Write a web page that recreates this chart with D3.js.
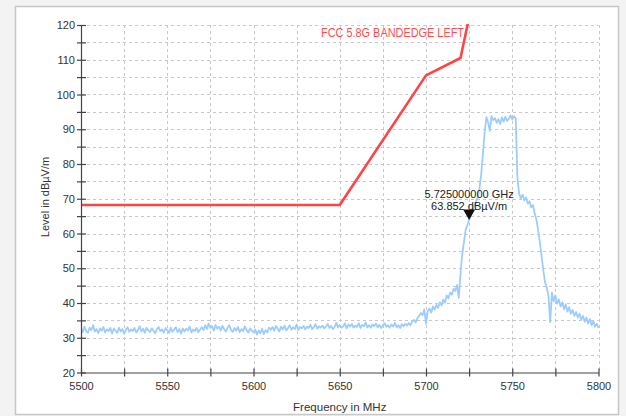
<!DOCTYPE html>
<html><head><meta charset="utf-8">
<script src="https://cdn.jsdelivr.net/npm/d3@7"></script>
<style>
html,body{margin:0;padding:0;background:#f3f3f3;}
svg{display:block;font-family:"Liberation Sans",Arial,sans-serif;}
</style></head><body>
<svg id="chart" width="626" height="416"></svg>
<script>
// Sweep: 5500–5800 MHz, one reading per MHz (dBµV/m)
const sweepStartMHz = 5500;
const sweepStepMHz = 1;
const traceLevels = [
  32.8, 31.6, 33.2, 32.0, 31.4, 32.9, 32.2, 33.6, 31.8, 32.5,
  31.3, 32.7, 32.0, 33.1, 31.5, 32.4, 31.9, 32.8, 31.2, 32.6,
  32.1, 31.4, 32.9, 31.8, 32.5, 31.1, 32.3, 33.0, 31.7, 32.4,
  31.9, 32.8, 31.5, 32.2, 33.3, 31.8, 32.6, 31.4, 32.9, 32.1,
  31.6, 32.7, 32.0, 31.3, 32.5, 33.1, 31.9, 32.4, 31.5, 32.8,
  32.2, 31.4, 32.9, 31.7, 32.3, 33.0, 31.6, 32.5, 31.2, 32.7,
  31.8, 32.6, 32.1, 33.2, 31.5, 32.4, 31.9, 32.8, 31.6, 32.3,
  33.0, 32.2, 33.6, 32.5, 34.1, 32.8, 33.4, 32.0, 33.7, 32.6,
  33.2, 32.1, 33.5, 32.4, 31.8, 32.9, 33.6, 32.2, 31.7, 32.8,
  32.0, 33.1, 31.6, 32.5, 31.9, 33.3, 32.2, 31.5, 32.7, 32.0,
  31.6, 32.4, 30.9, 32.1, 31.3, 32.6, 31.0, 32.2, 31.5, 32.9,
  32.3, 33.1, 32.0, 33.4, 32.6, 31.8, 33.2, 32.4, 33.5, 32.1,
  32.8, 33.6, 32.3, 33.0, 32.5, 33.8, 32.2, 33.1, 32.7, 33.4,
  32.4, 33.2, 32.8, 33.7, 32.5, 33.0, 33.9, 32.6, 33.3, 32.9,
  33.5, 32.7, 33.2, 34.0, 32.8, 33.4, 32.5, 33.1, 34.3, 33.0,
  33.6, 32.9, 33.3, 34.1, 32.7, 33.8, 33.2, 34.0, 32.9, 33.5,
  33.1, 34.2, 32.8, 33.7, 33.3, 34.4, 33.0, 33.6, 32.9, 33.8,
  33.4, 34.1, 33.0, 33.7, 32.8, 33.5, 34.2, 33.1, 33.6, 32.9,
  33.8, 33.2, 34.3, 33.0, 33.6, 32.8, 33.9, 33.3, 34.0, 33.5,
  34.2, 33.6, 34.8, 35.1, 34.4, 35.6, 36.3, 37.1, 36.5, 38.2,
  34.0, 37.6, 38.4, 37.2, 39.0, 38.1, 39.5, 38.6, 40.2, 39.3,
  41.0, 40.1, 42.2, 41.3, 43.0, 42.4, 44.1, 43.5, 45.2, 41.5,
  48.5, 54.0, 57.5, 61.0, 62.5, 64.0, 65.5, 67.0, 67.8, 69.2,
  70.5, 73.0, 77.0, 83.0, 89.0, 93.5, 92.0, 89.5, 93.8, 92.6,
  93.2, 91.8, 92.9, 91.5, 93.4, 92.2, 93.6, 92.4, 93.0, 94.0,
  92.8, 93.7, 93.2, 76.0, 71.5, 70.0, 71.2, 69.5, 70.4, 68.6,
  69.3, 67.5, 68.2, 65.8, 64.0, 61.0, 57.5, 53.5, 49.5, 46.0,
  44.5, 42.0, 34.5, 43.0, 40.5, 42.2, 39.8, 41.0, 39.0, 40.2,
  38.2, 39.6, 37.5, 38.8, 36.9, 38.0, 36.3, 37.4, 35.8, 36.9,
  35.2, 36.3, 34.6, 35.8, 34.1, 35.4, 33.6, 34.8, 33.2, 34.0,
  32.8
];

// Band-edge limit line
const limitName = "FCC 5.8G BANDEDGE LEFT";
const limitFreqs = [5500, 5650, 5700, 5720, 5725];
const limitLevels = [68.2, 68.2, 105.5, 110.5, 122.2];

// Marker
const markerFreqMHz = 5725;
const markerLevel = 63.852;
const markerLines = ["5.725000000 GHz", "63.852 dBµV/m"];

// Axes
const xTickValues = [5500, 5525, 5550, 5575, 5600, 5625, 5650, 5675, 5700, 5725, 5750, 5775, 5800];
const xTickLabels = ["5500", "", "5550", "", "5600", "", "5650", "", "5700", "", "5750", "", "5800"];
const yTickValues = [20, 25, 30, 35, 40, 45, 50, 55, 60, 65, 70, 75, 80, 85, 90, 95, 100, 105, 110, 115, 120];
const yTickLabels = ["20", "", "30", "", "40", "", "50", "", "60", "", "70", "", "80", "", "90", "", "100", "", "110", "", "120"];
const xTitle = "Frequency in MHz";
const yTitle = "Level in dBµV/m";

const svg = d3.select("#chart");
const plotLeft = 81, plotRight = 598.5, plotTop = 25, plotBottom = 372.5;

const x = d3.scaleLinear().domain([5500, 5800]).range([plotLeft, plotRight]);
const y = d3.scaleLinear().domain([20, 120]).range([plotBottom, plotTop]);

// Panel frame
svg.append("rect")
  .attr("x", 15.5).attr("y", 6.5).attr("width", 603).attr("height", 408)
  .attr("fill", "#ffffff").attr("stroke", "#c6c6c6").attr("stroke-width", 1.5);

// Grid
const grid = svg.append("g").attr("stroke", "#c8c8c8").attr("stroke-width", 1)
  .attr("stroke-dasharray", "3,3").attr("fill", "none");
grid.selectAll("line.h").data(yTickValues.filter(v => v > 20)).join("line")
  .attr("class", "h")
  .attr("x1", plotLeft).attr("x2", plotRight)
  .attr("y1", d => Math.round(y(d)) + 0.5).attr("y2", d => Math.round(y(d)) + 0.5);
grid.selectAll("line.v").data(xTickValues.filter(v => v > 5500)).join("line")
  .attr("class", "v")
  .attr("y1", plotTop).attr("y2", plotBottom)
  .attr("x1", d => Math.round(x(d)) + 0.5).attr("x2", d => Math.round(x(d)) + 0.5);

// Clip to plot area
svg.append("clipPath").attr("id", "plotClip")
  .append("rect").attr("x", plotLeft).attr("y", plotTop - 1)
  .attr("width", plotRight - plotLeft + 1).attr("height", plotBottom - plotTop + 1);

const plot = svg.append("g").attr("clip-path", "url(#plotClip)");

// Measured trace
const trace = traceLevels.map((v, i) => [sweepStartMHz + i * sweepStepMHz, v]);
plot.append("path")
  .datum(trace)
  .attr("fill", "none")
  .attr("stroke", "#9dcdff")
  .attr("stroke-width", 1.8)
  .attr("stroke-linejoin", "round")
  .attr("d", d3.line().x(d => x(d[0])).y(d => y(d[1])));

// Limit line
const limit = limitFreqs.map((f, i) => [f, limitLevels[i]]);
plot.append("path")
  .datum(limit)
  .attr("fill", "none")
  .attr("stroke", "#ff4444")
  .attr("stroke-width", 2.6)
  .attr("stroke-linejoin", "round")
  .attr("d", d3.line().x(d => x(d[0])).y(d => y(d[1])));

svg.append("text")
  .attr("x", 464).attr("y", 37)
  .attr("text-anchor", "end")
  .attr("fill", "#ff4d4d")
  .attr("font-size", 12)
  .attr("textLength", 143).attr("lengthAdjust", "spacingAndGlyphs")
  .text(limitName);

// Axes
const xAxis = d3.axisBottom(x).tickValues(xTickValues)
  .tickFormat((d, i) => xTickLabels[i]).tickSize(4).tickSizeOuter(0).tickPadding(6);
const gx = svg.append("g").attr("transform", `translate(0,${plotBottom})`).call(xAxis);
gx.selectAll(".tick line").attr("y1", -4).attr("y2", 4);

const yAxis = d3.axisLeft(y).tickValues(yTickValues)
  .tickFormat((d, i) => yTickLabels[i]).tickSize(4).tickSizeOuter(0).tickPadding(2);
const gy = svg.append("g").attr("transform", `translate(${plotLeft},0)`).call(yAxis);
gy.selectAll(".tick line").attr("x1", -4).attr("x2", 5);

[gx, gy].forEach(g => {
  g.select(".domain").attr("stroke", "#444").attr("stroke-width", 1.2);
  g.selectAll(".tick line").attr("stroke", "#444").attr("stroke-width", 1.2);
  g.selectAll(".tick text").attr("fill", "#333").attr("font-size", 11)
    .attr("font-family", "Liberation Sans, Arial, sans-serif");
});

svg.append("text")
  .attr("x", (plotLeft + plotRight) / 2).attr("y", 411)
  .attr("text-anchor", "middle").attr("fill", "#333").attr("font-size", 11.5)
  .text(xTitle);

svg.append("text")
  .attr("transform", `translate(49,197) rotate(-90)`)
  .attr("text-anchor", "middle").attr("fill", "#333").attr("font-size", 11)
  .text(yTitle);

// Marker
const mx = x(markerFreqMHz), my = y(markerLevel);
svg.append("path")
  .attr("d", `M${mx - 6},${my - 10.5} L${mx + 6},${my - 10.5} L${mx},${my} Z`)
  .attr("fill", "#111");
svg.append("g").selectAll("text").data(markerLines).join("text")
  .attr("x", mx).attr("y", (d, i) => my - 22.5 + i * 12)
  .attr("text-anchor", "middle").attr("fill", "#222").attr("font-size", 11)
  .text(d => d);
</script>
</body></html>
